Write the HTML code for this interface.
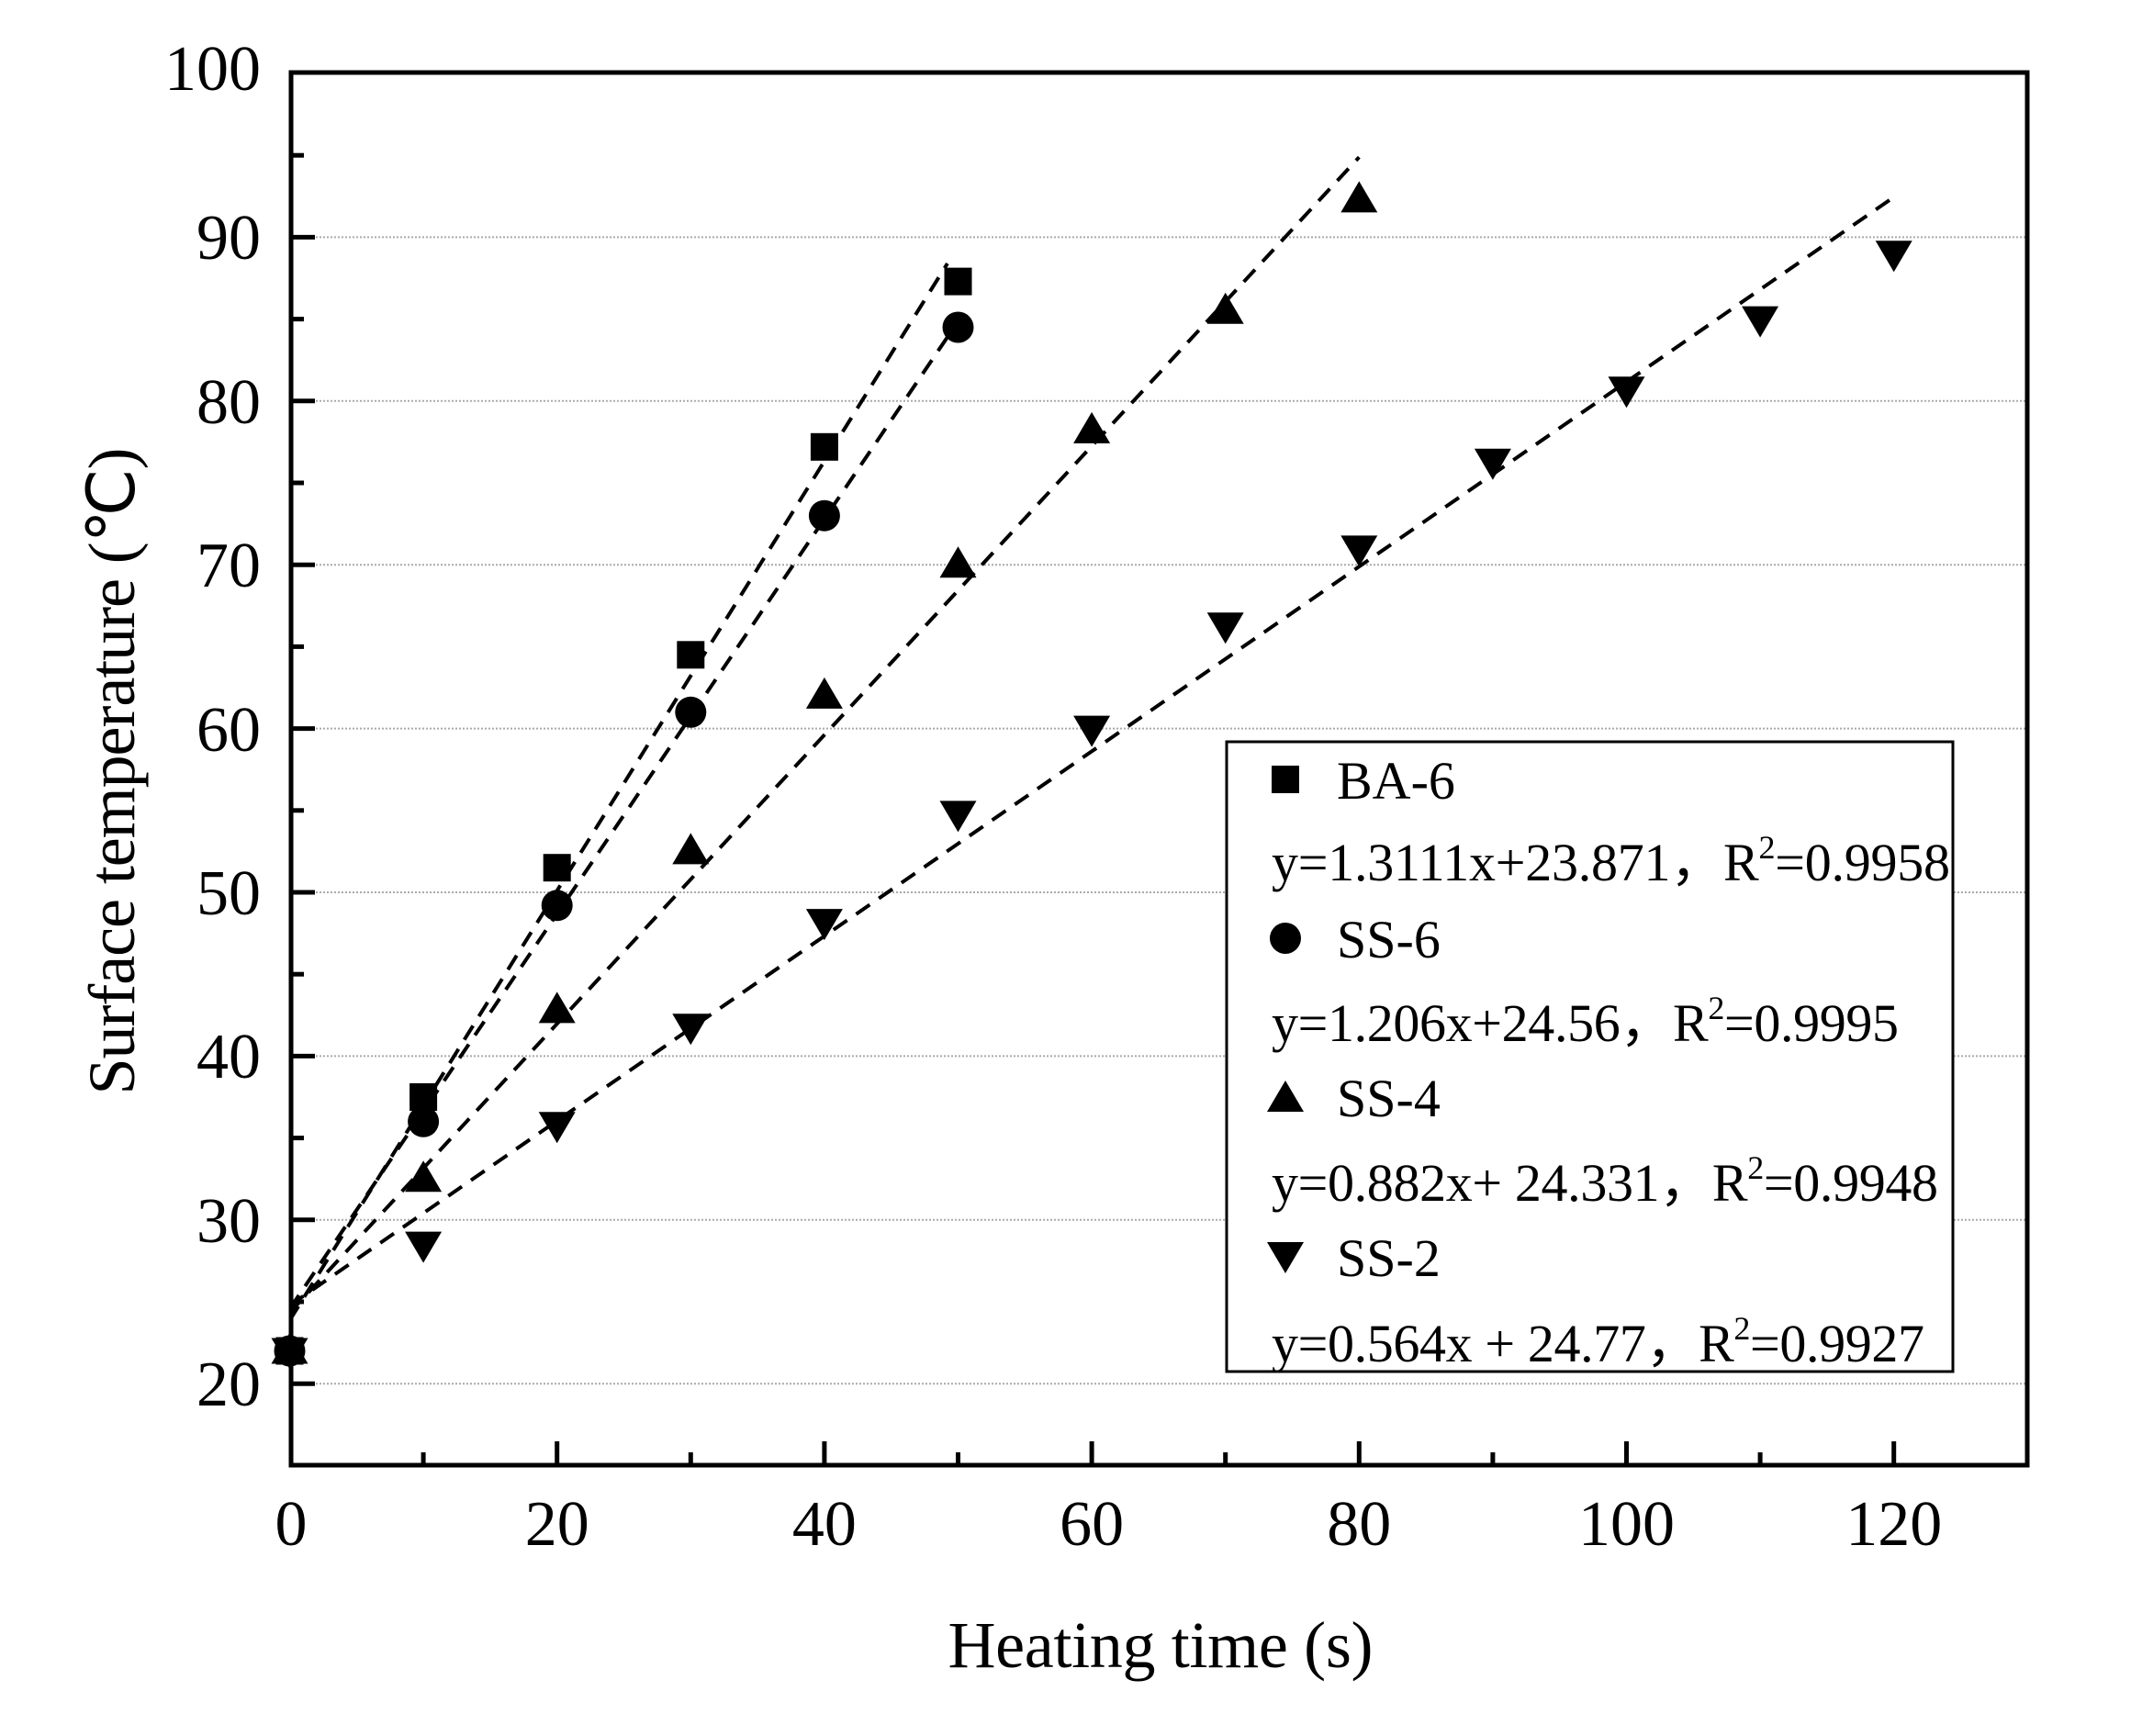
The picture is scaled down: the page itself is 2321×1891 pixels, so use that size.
<!DOCTYPE html>
<html><head><meta charset="utf-8"><style>body{margin:0;background:#fff}svg{display:block}text{font-family:"Liberation Serif",serif;fill:#000}</style></head>
<body>
<svg width="2321" height="1891" viewBox="0 0 2321 1891" xmlns="http://www.w3.org/2000/svg">
<defs>
<clipPath id="c"><rect x="316" y="80" width="1892" height="1516"/></clipPath>
</defs>
<g stroke="#aaa" stroke-width="2" stroke-dasharray="2,2">
<line x1="316" x2="2208" y1="258.4" y2="258.4"/>
<line x1="316" x2="2208" y1="436.8" y2="436.8"/>
<line x1="316" x2="2208" y1="615.2" y2="615.2"/>
<line x1="316" x2="2208" y1="793.6" y2="793.6"/>
<line x1="316" x2="2208" y1="972" y2="972"/>
<line x1="316" x2="2208" y1="1150.4" y2="1150.4"/>
<line x1="316" x2="2208" y1="1328.8" y2="1328.8"/>
<line x1="316" x2="2208" y1="1507.2" y2="1507.2"/>
</g>
<g clip-path="url(#c)" stroke="#000" stroke-width="4" stroke-dasharray="18,12" fill="none">
<line x1="315.5" y1="1438.2" x2="1031.9" y2="287"/>
<line x1="315.5" y1="1425.8" x2="1043.5" y2="350.1"/>
<line x1="315.5" y1="1429.9" x2="1480.3" y2="171.2"/>
<line x1="315.5" y1="1422.1" x2="2062.7" y2="214.7"/>
</g>
<g fill="#000">
<rect x="300.5" y="1456.5" width="30" height="30"/>
<rect x="446.1" y="1180" width="30" height="30"/>
<rect x="591.7" y="930.2" width="30" height="30"/>
<rect x="737.3" y="698.3" width="30" height="30"/>
<rect x="882.9" y="471.8" width="30" height="30"/>
<rect x="1028.5" y="291.6" width="30" height="30"/>
<circle cx="315.5" cy="1471.5" r="17"/>
<circle cx="461.1" cy="1221.8" r="17"/>
<circle cx="606.7" cy="986.3" r="17"/>
<circle cx="752.3" cy="775.8" r="17"/>
<circle cx="897.9" cy="561.7" r="17"/>
<circle cx="1043.5" cy="356.5" r="17"/>
<!-- SS-4 up -->
<polygon points="315.5,1451.5 295.5,1485.5 335.5,1485.5"/>
<polygon points="461.1,1264.2 441.1,1298.2 481.1,1298.2"/>
<polygon points="606.7,1080.4 586.7,1114.4 626.7,1114.4"/>
<polygon points="752.3,907.4 732.3,941.4 772.3,941.4"/>
<polygon points="897.9,737.9 877.9,771.9 917.9,771.9"/>
<polygon points="1043.5,595.2 1023.5,629.2 1063.5,629.2"/>
<polygon points="1189.1,448.9 1169.1,482.9 1209.1,482.9"/>
<polygon points="1334.7,318.7 1314.7,352.7 1354.7,352.7"/>
<polygon points="1480.3,197.4 1460.3,231.4 1500.3,231.4"/>
<!-- SS-2 down -->
<polygon points="295.5,1457.5 335.5,1457.5 315.5,1491.5"/>
<polygon points="441.1,1341.6 481.1,1341.6 461.1,1375.6"/>
<polygon points="586.7,1211.3 626.7,1211.3 606.7,1245.3"/>
<polygon points="732.3,1104.3 772.3,1104.3 752.3,1138.3"/>
<polygon points="877.9,990.1 917.9,990.1 897.9,1024.1"/>
<polygon points="1023.5,872.4 1063.5,872.4 1043.5,906.4"/>
<polygon points="1169.1,779.6 1209.1,779.6 1189.1,813.6"/>
<polygon points="1314.7,667.2 1354.7,667.2 1334.7,701.2"/>
<polygon points="1460.3,583.4 1500.3,583.4 1480.3,617.4"/>
<polygon points="1605.9,488.8 1645.9,488.8 1625.9,522.8"/>
<polygon points="1751.5,410.3 1791.5,410.3 1771.5,444.3"/>
<polygon points="1897.1,333.6 1937.1,333.6 1917.1,367.6"/>
<polygon points="2042.7,262.2 2082.7,262.2 2062.7,296.2"/>
</g>
<rect x="317" y="79" width="1891" height="1517" fill="none" stroke="#000" stroke-width="5"/>
<g stroke="#000" stroke-width="5">
<line x1="317" x2="343" y1="258.4" y2="258.4"/><line x1="317" x2="343" y1="436.8" y2="436.8"/>
<line x1="317" x2="343" y1="615.2" y2="615.2"/><line x1="317" x2="343" y1="793.6" y2="793.6"/>
<line x1="317" x2="343" y1="972" y2="972"/><line x1="317" x2="343" y1="1150.4" y2="1150.4"/>
<line x1="317" x2="343" y1="1328.8" y2="1328.8"/><line x1="317" x2="343" y1="1507.2" y2="1507.2"/>
<line x1="317" x2="331" y1="169.2" y2="169.2"/><line x1="317" x2="331" y1="347.6" y2="347.6"/>
<line x1="317" x2="331" y1="526" y2="526"/><line x1="317" x2="331" y1="704.4" y2="704.4"/>
<line x1="317" x2="331" y1="882.8" y2="882.8"/><line x1="317" x2="331" y1="1061.2" y2="1061.2"/>
<line x1="317" x2="331" y1="1239.6" y2="1239.6"/><line x1="317" x2="331" y1="1418" y2="1418"/>
<line y1="1596" y2="1570" x1="606.7" x2="606.7"/><line y1="1596" y2="1570" x1="897.9" x2="897.9"/>
<line y1="1596" y2="1570" x1="1189.1" x2="1189.1"/><line y1="1596" y2="1570" x1="1480.3" x2="1480.3"/>
<line y1="1596" y2="1570" x1="1771.5" x2="1771.5"/><line y1="1596" y2="1570" x1="2062.7" x2="2062.7"/>
<line y1="1596" y2="1582" x1="461.1" x2="461.1"/><line y1="1596" y2="1582" x1="752.3" x2="752.3"/>
<line y1="1596" y2="1582" x1="1043.5" x2="1043.5"/><line y1="1596" y2="1582" x1="1334.7" x2="1334.7"/>
<line y1="1596" y2="1582" x1="1625.9" x2="1625.9"/><line y1="1596" y2="1582" x1="1917.1" x2="1917.1"/>
</g>
<g font-size="70" text-anchor="end">
<text x="284" y="98">100</text><text x="284" y="282">90</text><text x="284" y="461">80</text>
<text x="284" y="639">70</text><text x="284" y="818">60</text><text x="284" y="996">50</text>
<text x="284" y="1174">40</text><text x="284" y="1353">30</text><text x="284" y="1531">20</text>
</g>
<g font-size="70" text-anchor="middle">
<text x="317" y="1683">0</text><text x="606.7" y="1683">20</text><text x="897.9" y="1683">40</text>
<text x="1189.1" y="1683">60</text><text x="1480.3" y="1683">80</text><text x="1771.5" y="1683">100</text>
<text x="2062.7" y="1683">120</text>
</g>
<text x="1264" y="1816" font-size="72" text-anchor="middle" textLength="463">Heating time (s)</text>
<text transform="translate(146,840) rotate(-90)" font-size="72" text-anchor="middle" textLength="705">Surface temperature (℃)</text>
<rect x="1336" y="808" width="791" height="686" fill="#fff" stroke="#000" stroke-width="3"/>
<rect x="1385" y="834" width="30" height="30"/>
<circle cx="1400" cy="1022" r="17"/>
<polygon points="1400,1177 1380,1211 1420,1211"/>
<polygon points="1380,1353 1420,1353 1400,1387"/>
<g font-size="58">
<text x="1456" y="870">BA-6</text>
<text x="1456" y="1043">SS-6</text>
<text x="1456" y="1216">SS-4</text>
<text x="1456" y="1390">SS-2</text>
<text x="1385" y="959" textLength="739">y=1.3111x+23.871，R<tspan font-size="36" dy="-24">2</tspan><tspan dy="24">=0.9958</tspan></text>
<text x="1385" y="1134" textLength="683">y=1.206x+24.56，R<tspan font-size="36" dy="-24">2</tspan><tspan dy="24">=0.9995</tspan></text>
<text x="1385" y="1308" textLength="726">y=0.882x+ 24.331，R<tspan font-size="36" dy="-24">2</tspan><tspan dy="24">=0.9948</tspan></text>
<text x="1385" y="1483" textLength="711">y=0.564x + 24.77，R<tspan font-size="36" dy="-24">2</tspan><tspan dy="24">=0.9927</tspan></text>
</g>
</svg>
</body></html>
